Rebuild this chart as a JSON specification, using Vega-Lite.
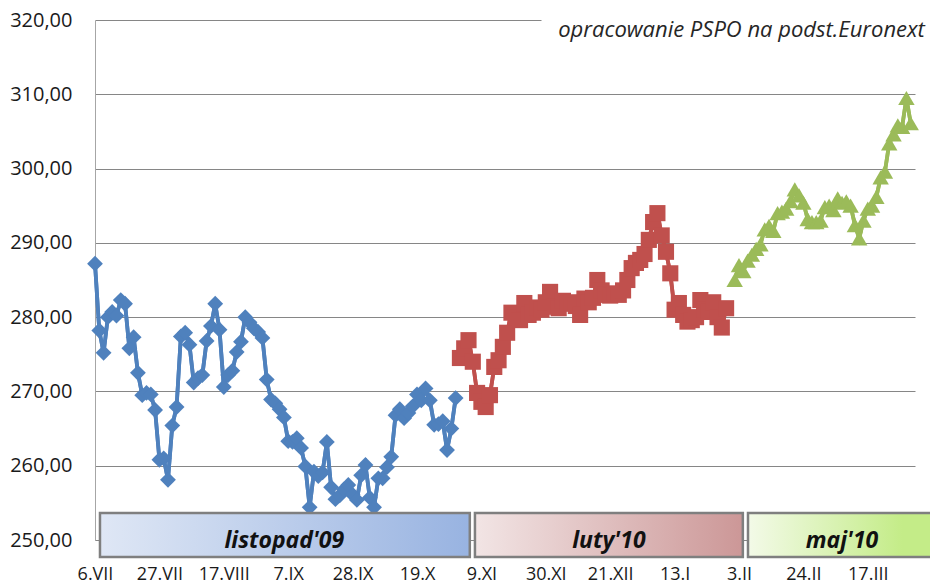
{
"$schema": "https://vega.github.io/schema/vega-lite/v6.json",
"width": 820,
"height": 520,
"autosize": {"type": "none"},
"padding": {"left": 95, "top": 20, "right": 15, "bottom": 45},
"background": "white",
"config": {"view": {"stroke": null}, "font": "Open Sans"},
"datasets": {
"prices": [
{"s":"listopad'09","d":0,"v":287.2},{"s":"listopad'09","d":1,"v":278.2},{"s":"listopad'09","d":2,"v":275.2},{"s":"listopad'09","d":3,"v":280.0},{"s":"listopad'09","d":4,"v":280.7},{"s":"listopad'09","d":5,"v":280.2},{"s":"listopad'09","d":6,"v":282.3},{"s":"listopad'09","d":7,"v":281.8},{"s":"listopad'09","d":8,"v":275.8},{"s":"listopad'09","d":9,"v":277.3},
{"s":"listopad'09","d":10,"v":272.5},{"s":"listopad'09","d":11,"v":269.5},{"s":"listopad'09","d":12,"v":269.8},{"s":"listopad'09","d":13,"v":269.6},{"s":"listopad'09","d":14,"v":267.5},{"s":"listopad'09","d":15,"v":260.8},{"s":"listopad'09","d":16,"v":261.0},{"s":"listopad'09","d":17,"v":258.1},{"s":"listopad'09","d":18,"v":265.4},{"s":"listopad'09","d":19,"v":267.9},
{"s":"listopad'09","d":20,"v":277.4},{"s":"listopad'09","d":21,"v":277.9},{"s":"listopad'09","d":22,"v":276.3},{"s":"listopad'09","d":23,"v":271.2},{"s":"listopad'09","d":24,"v":271.8},{"s":"listopad'09","d":25,"v":272.2},{"s":"listopad'09","d":26,"v":276.8},{"s":"listopad'09","d":27,"v":278.8},{"s":"listopad'09","d":28,"v":281.8},{"s":"listopad'09","d":29,"v":278.3},
{"s":"listopad'09","d":30,"v":270.6},{"s":"listopad'09","d":31,"v":272.2},{"s":"listopad'09","d":32,"v":272.8},{"s":"listopad'09","d":33,"v":275.3},{"s":"listopad'09","d":34,"v":276.7},{"s":"listopad'09","d":35,"v":280.0},{"s":"listopad'09","d":36,"v":279.3},{"s":"listopad'09","d":37,"v":278.5},{"s":"listopad'09","d":38,"v":278.0},{"s":"listopad'09","d":39,"v":277.2},
{"s":"listopad'09","d":40,"v":271.6},{"s":"listopad'09","d":41,"v":268.9},{"s":"listopad'09","d":42,"v":268.4},{"s":"listopad'09","d":43,"v":267.6},{"s":"listopad'09","d":44,"v":266.5},{"s":"listopad'09","d":45,"v":263.3},{"s":"listopad'09","d":46,"v":263.2},{"s":"listopad'09","d":47,"v":263.7},{"s":"listopad'09","d":48,"v":262.4},{"s":"listopad'09","d":49,"v":259.9},
{"s":"listopad'09","d":50,"v":254.4},{"s":"listopad'09","d":51,"v":259.2},{"s":"listopad'09","d":52,"v":258.6},{"s":"listopad'09","d":53,"v":259.1},{"s":"listopad'09","d":54,"v":263.2},{"s":"listopad'09","d":55,"v":257.1},{"s":"listopad'09","d":56,"v":255.5},{"s":"listopad'09","d":57,"v":256.0},{"s":"listopad'09","d":58,"v":256.8},{"s":"listopad'09","d":59,"v":257.4},
{"s":"listopad'09","d":60,"v":256.1},{"s":"listopad'09","d":61,"v":255.4},{"s":"listopad'09","d":62,"v":258.7},{"s":"listopad'09","d":63,"v":260.1},{"s":"listopad'09","d":64,"v":255.7},{"s":"listopad'09","d":65,"v":254.4},{"s":"listopad'09","d":66,"v":258.3},{"s":"listopad'09","d":67,"v":258.3},{"s":"listopad'09","d":68,"v":259.8},{"s":"listopad'09","d":69,"v":261.2},
{"s":"listopad'09","d":70,"v":266.8},{"s":"listopad'09","d":71,"v":267.6},{"s":"listopad'09","d":72,"v":266.4},{"s":"listopad'09","d":73,"v":267.1},{"s":"listopad'09","d":74,"v":268.0},{"s":"listopad'09","d":75,"v":269.6},{"s":"listopad'09","d":76,"v":268.8},{"s":"listopad'09","d":77,"v":270.4},{"s":"listopad'09","d":78,"v":268.8},{"s":"listopad'09","d":79,"v":265.5},
{"s":"listopad'09","d":80,"v":265.6},{"s":"listopad'09","d":81,"v":266.0},{"s":"listopad'09","d":82,"v":262.1},{"s":"listopad'09","d":83,"v":265.0},{"s":"listopad'09","d":84,"v":269.1},
{"s":"luty'10","d":85,"v":274.5},{"s":"luty'10","d":86,"v":275.8},{"s":"luty'10","d":87,"v":276.9},{"s":"luty'10","d":88,"v":274.0},{"s":"luty'10","d":89,"v":269.8},{"s":"luty'10","d":90,"v":268.6},{"s":"luty'10","d":91,"v":267.9},{"s":"luty'10","d":92,"v":269.5},{"s":"luty'10","d":93,"v":273.3},{"s":"luty'10","d":94,"v":274.2},
{"s":"luty'10","d":95,"v":276.0},{"s":"luty'10","d":96,"v":277.9},{"s":"luty'10","d":97,"v":280.6},{"s":"luty'10","d":98,"v":280.0},{"s":"luty'10","d":99,"v":279.6},{"s":"luty'10","d":100,"v":281.9},{"s":"luty'10","d":101,"v":280.3},{"s":"luty'10","d":102,"v":280.6},{"s":"luty'10","d":103,"v":281.3},{"s":"luty'10","d":104,"v":281.0},
{"s":"luty'10","d":105,"v":282.0},{"s":"luty'10","d":106,"v":283.4},{"s":"luty'10","d":107,"v":281.4},{"s":"luty'10","d":108,"v":281.2},{"s":"luty'10","d":109,"v":282.2},{"s":"luty'10","d":110,"v":281.8},{"s":"luty'10","d":111,"v":282.0},{"s":"luty'10","d":112,"v":281.5},{"s":"luty'10","d":113,"v":280.3},{"s":"luty'10","d":114,"v":282.5},
{"s":"luty'10","d":115,"v":282.0},{"s":"luty'10","d":116,"v":282.6},{"s":"luty'10","d":117,"v":285.0},{"s":"luty'10","d":118,"v":283.6},{"s":"luty'10","d":119,"v":283.0},{"s":"luty'10","d":120,"v":282.9},{"s":"luty'10","d":121,"v":283.2},{"s":"luty'10","d":122,"v":283.0},{"s":"luty'10","d":123,"v":283.6},{"s":"luty'10","d":124,"v":285.0},
{"s":"luty'10","d":125,"v":286.6},{"s":"luty'10","d":126,"v":287.3},{"s":"luty'10","d":127,"v":287.7},{"s":"luty'10","d":128,"v":288.5},{"s":"luty'10","d":129,"v":290.4},{"s":"luty'10","d":130,"v":292.8},{"s":"luty'10","d":131,"v":294.0},{"s":"luty'10","d":132,"v":291.0},{"s":"luty'10","d":133,"v":288.8},{"s":"luty'10","d":134,"v":285.9},
{"s":"luty'10","d":135,"v":281.0},{"s":"luty'10","d":136,"v":281.9},{"s":"luty'10","d":137,"v":280.3},{"s":"luty'10","d":138,"v":279.4},{"s":"luty'10","d":139,"v":279.6},{"s":"luty'10","d":140,"v":280.0},{"s":"luty'10","d":141,"v":282.3},{"s":"luty'10","d":142,"v":281.0},{"s":"luty'10","d":143,"v":280.7},{"s":"luty'10","d":144,"v":282.0},
{"s":"luty'10","d":145,"v":280.0},{"s":"luty'10","d":146,"v":278.6},{"s":"luty'10","d":147,"v":281.2},
{"s":"maj'10","d":149,"v":285.0},{"s":"maj'10","d":150,"v":287.0},{"s":"maj'10","d":151,"v":286.2},{"s":"maj'10","d":152,"v":287.6},{"s":"maj'10","d":153,"v":288.4},{"s":"maj'10","d":154,"v":289.2},{"s":"maj'10","d":155,"v":289.8},{"s":"maj'10","d":156,"v":291.8},{"s":"maj'10","d":157,"v":292.3},{"s":"maj'10","d":158,"v":291.6},
{"s":"maj'10","d":159,"v":294.0},{"s":"maj'10","d":160,"v":294.2},{"s":"maj'10","d":161,"v":294.6},{"s":"maj'10","d":162,"v":295.6},{"s":"maj'10","d":163,"v":297.2},{"s":"maj'10","d":164,"v":296.4},{"s":"maj'10","d":165,"v":295.4},{"s":"maj'10","d":166,"v":293.2},{"s":"maj'10","d":167,"v":292.8},{"s":"maj'10","d":168,"v":292.8},
{"s":"maj'10","d":169,"v":293.0},{"s":"maj'10","d":170,"v":294.8},{"s":"maj'10","d":171,"v":295.0},{"s":"maj'10","d":172,"v":294.4},{"s":"maj'10","d":173,"v":296.0},{"s":"maj'10","d":174,"v":295.4},{"s":"maj'10","d":175,"v":295.6},{"s":"maj'10","d":176,"v":295.0},{"s":"maj'10","d":177,"v":292.4},{"s":"maj'10","d":178,"v":290.6},
{"s":"maj'10","d":179,"v":293.0},{"s":"maj'10","d":180,"v":294.6},{"s":"maj'10","d":181,"v":295.0},{"s":"maj'10","d":182,"v":296.2},{"s":"maj'10","d":183,"v":298.8},{"s":"maj'10","d":184,"v":299.6},{"s":"maj'10","d":185,"v":303.4},{"s":"maj'10","d":186,"v":304.6},{"s":"maj'10","d":187,"v":305.8},{"s":"maj'10","d":188,"v":305.6},
{"s":"maj'10","d":189,"v":309.5},{"s":"maj'10","d":190,"v":306.1}
]
},
"layer": [
{
"data": {"name": "prices"},
"mark": {"type": "line", "strokeWidth": 3.8},
"encoding": {
"x": {"field": "d", "type": "quantitative", "title": null,
"scale": {"domain": [0, 191], "nice": false, "zero": false},
"axis": {"values": [0,15,30,45,60,75,90,105,120,135,150,165,180],
"labelExpr": "['6.VII','27.VII','17.VIII','7.IX','28.IX','19.X','9.XI','30.XI','21.XII','13.I','3.II','24.II','17.III'][round(datum.value/15)]",
"grid": false, "ticks": false, "domainColor": "#868686", "domainWidth": 1,
"labelFont": "Open Sans", "labelFontSize": 18, "labelColor": "#1a1a1a", "labelPadding": 25, "labelFlush": false, "labelOverlap": false}},
"y": {"field": "v", "type": "quantitative", "title": null,
"scale": {"domain": [250, 320], "nice": false, "zero": false},
"axis": {"values": [250,260,270,280,290,300,310,320],
"labelExpr": "replace(format(datum.value,'.2f'),'.',',')",
"grid": true, "gridColor": "#868686", "gridWidth": 1, "ticks": false, "domainColor": "#a6a6a6", "domainWidth": 1,
"labelFont": "Open Sans", "labelFontSize": 20, "labelColor": "#1a1a1a", "labelPadding": 23}},
"color": {"field": "s", "type": "nominal", "legend": null,
"scale": {"domain": ["listopad'09", "luty'10", "maj'10"], "range": ["#4F81BD", "#C0504D", "#9BBB59"]}},
"detail": {"field": "s"}
}
},
{
"data": {"values": [{}]},
"mark": {"type": "rect", "fill": "white"},
"encoding": {
"x": {"datum": 104, "type": "quantitative", "title": null, "scale": {"domain": [0, 191], "nice": false, "zero": false}},
"x2": {"datum": 192},
"y": {"datum": 319.5, "type": "quantitative", "title": null, "scale": {"domain": [250, 320], "nice": false, "zero": false}},
"y2": {"datum": 320.5}
}
},
{
"data": {"values": [{}]},
"mark": {"type": "text", "text": "opracowanie PSPO na podst.Euronext", "align": "right", "baseline": "middle", "font": "Open Sans", "fontStyle": "italic", "fontSize": 22, "color": "#262626"},
"encoding": {
"x": {"datum": 193.3, "type": "quantitative", "title": null, "scale": {"domain": [0, 191], "nice": false, "zero": false}},
"y": {"datum": 318.65, "type": "quantitative", "title": null, "scale": {"domain": [250, 320], "nice": false, "zero": false}}
}
},
{
"data": {"name": "prices"},
"mark": {"type": "line", "strokeWidth": 3.8},
"encoding": {
"x": {"field": "d", "type": "quantitative", "title": null, "scale": {"domain": [0, 191], "nice": false, "zero": false}},
"y": {"field": "v", "type": "quantitative", "title": null, "scale": {"domain": [250, 320], "nice": false, "zero": false}},
"color": {"field": "s", "type": "nominal", "legend": null,
"scale": {"domain": ["listopad'09", "luty'10", "maj'10"], "range": ["#4F81BD", "#C0504D", "#9BBB59"]}},
"detail": {"field": "s"}
}
},
{
"data": {"name": "prices"},
"mark": {"type": "point", "filled": true, "opacity": 1},
"encoding": {
"x": {"field": "d", "type": "quantitative", "title": null, "scale": {"domain": [0, 191], "nice": false, "zero": false}},
"y": {"field": "v", "type": "quantitative", "title": null, "scale": {"domain": [250, 320], "nice": false, "zero": false}},
"color": {"field": "s", "type": "nominal", "legend": null,
"scale": {"domain": ["listopad'09", "luty'10", "maj'10"], "range": ["#4F81BD", "#C0504D", "#9BBB59"]}},
"shape": {"field": "s", "type": "nominal", "legend": null,
"scale": {"domain": ["listopad'09", "luty'10", "maj'10"], "range": ["diamond", "square", "triangle-up"]}},
"size": {"field": "s", "type": "nominal", "legend": null,
"scale": {"domain": ["listopad'09", "luty'10", "maj'10"], "range": [250, 270, 300]}}
}
},
{
"data": {"values": [{}]},
"mark": {"type": "rect", "stroke": "#7f7f7f", "strokeWidth": 2.5,
"fill": {"gradient": "linear", "stops": [{"offset": 0, "color": "#dfe7f5"}, {"offset": 1, "color": "#98b3e1"}]}},
"encoding": {
"x": {"datum": 1.16, "type": "quantitative", "title": null, "scale": {"domain": [0, 191], "nice": false, "zero": false}},
"x2": {"datum": 87.3},
"y": {"datum": 253.63, "type": "quantitative", "title": null, "scale": {"domain": [250, 320], "nice": false, "zero": false}},
"y2": {"datum": 247.71}
}
},
{
"data": {"values": [{}]},
"mark": {"type": "rect", "stroke": "#7f7f7f", "strokeWidth": 2.5,
"fill": {"gradient": "linear", "stops": [{"offset": 0, "color": "#f2e5e5"}, {"offset": 1, "color": "#cc9797"}]}},
"encoding": {
"x": {"datum": 88.5, "type": "quantitative", "title": null, "scale": {"domain": [0, 191], "nice": false, "zero": false}},
"x2": {"datum": 150.9},
"y": {"datum": 253.63, "type": "quantitative", "title": null, "scale": {"domain": [250, 320], "nice": false, "zero": false}},
"y2": {"datum": 247.71}
}
},
{
"data": {"values": [{}]},
"mark": {"type": "rect", "stroke": "#7f7f7f", "strokeWidth": 2.5,
"fill": {"gradient": "linear", "x1": 0, "x2": 0.75, "stops": [{"offset": 0, "color": "#f3fae8"}, {"offset": 1, "color": "#c4ec88"}]}},
"encoding": {
"x": {"datum": 152.1, "type": "quantitative", "title": null, "scale": {"domain": [0, 191], "nice": false, "zero": false}},
"x2": {"datum": 200},
"y": {"datum": 253.63, "type": "quantitative", "title": null, "scale": {"domain": [250, 320], "nice": false, "zero": false}},
"y2": {"datum": 247.71}
}
},
{
"data": {"values": [{}]},
"mark": {"type": "text", "text": "listopad'09", "align": "center", "baseline": "alphabetic", "font": "Open Sans", "fontStyle": "italic", "fontWeight": "bold", "fontSize": 23, "color": "#111111"},
"encoding": {
"x": {"datum": 44.1, "type": "quantitative", "title": null, "scale": {"domain": [0, 191], "nice": false, "zero": false}},
"y": {"datum": 248.95, "type": "quantitative", "title": null, "scale": {"domain": [250, 320], "nice": false, "zero": false}}
}
},
{
"data": {"values": [{}]},
"mark": {"type": "text", "text": "luty'10", "align": "center", "baseline": "alphabetic", "font": "Open Sans", "fontStyle": "italic", "fontWeight": "bold", "fontSize": 23, "color": "#111111"},
"encoding": {
"x": {"datum": 119.7, "type": "quantitative", "title": null, "scale": {"domain": [0, 191], "nice": false, "zero": false}},
"y": {"datum": 248.95, "type": "quantitative", "title": null, "scale": {"domain": [250, 320], "nice": false, "zero": false}}
}
},
{
"data": {"values": [{}]},
"mark": {"type": "text", "text": "maj'10", "align": "center", "baseline": "alphabetic", "font": "Open Sans", "fontStyle": "italic", "fontWeight": "bold", "fontSize": 23, "color": "#111111"},
"encoding": {
"x": {"datum": 174.0, "type": "quantitative", "title": null, "scale": {"domain": [0, 191], "nice": false, "zero": false}},
"y": {"datum": 248.95, "type": "quantitative", "title": null, "scale": {"domain": [250, 320], "nice": false, "zero": false}}
}
}
]
}
